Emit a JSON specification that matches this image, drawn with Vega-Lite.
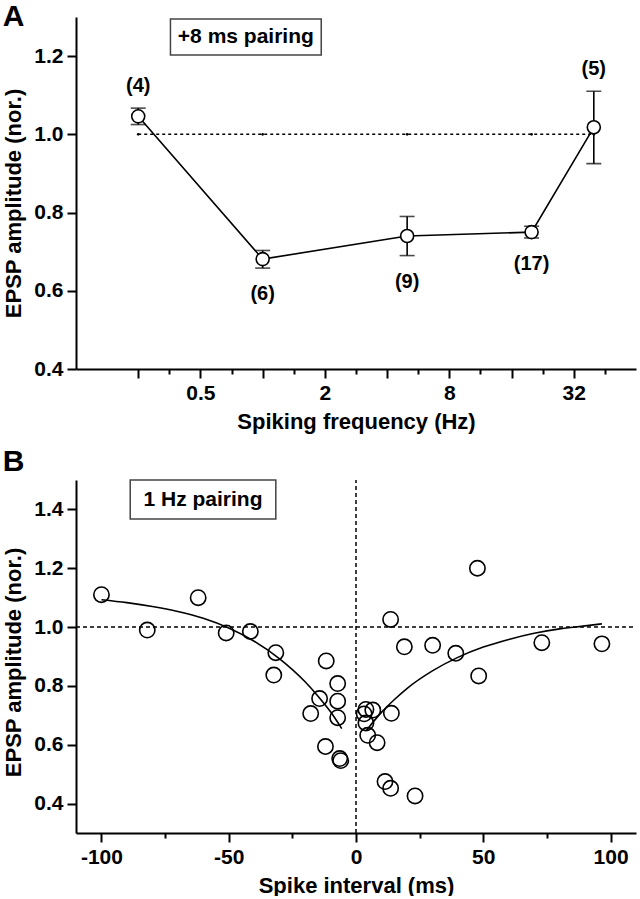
{
  "$schema": "https://vega.github.io/schema/vega-lite/v6.json",
  "padding": {"left": 2, "top": 2, "right": 0, "bottom": 0},
  "spacing": 15,
  "config": {
    "font": "Liberation Sans",
    "view": {"stroke": null},
    "axis": {
      "domainColor": "black", "domainWidth": 2, "tickColor": "black", "tickWidth": 2,
      "labelFont": "Liberation Sans", "labelFontWeight": "bold", "labelFontSize": 21, "labelColor": "black",
      "titleFont": "Liberation Sans", "titleFontWeight": "bold", "titleFontSize": 22, "titleColor": "black",
      "grid": false, "tickSize": 9, "labelPadding": 4, "titlePadding": 8
    },
    "title": {"fontSize": 30, "fontWeight": "bold", "anchor": "start", "frame": "bounds", "color": "black", "font": "Liberation Sans"}
  },
  "datasets": {
    "a": [
      {"freq": 0.25, "amp": 1.046, "lo": 1.025, "hi": 1.067, "label": "(4)", "side": "above"},
      {"freq": 1, "amp": 0.681, "lo": 0.658, "hi": 0.703, "label": "(6)", "side": "below"},
      {"freq": 5, "amp": 0.740, "lo": 0.690, "hi": 0.790, "label": "(9)", "side": "below"},
      {"freq": 20, "amp": 0.750, "lo": 0.735, "hi": 0.765, "label": "(17)", "side": "below"},
      {"freq": 40, "amp": 1.018, "lo": 0.925, "hi": 1.110, "label": "(5)", "side": "above"}
    ],
    "aref": [{"freq": 0.25, "freq2": 40, "amp": 1.0}],
    "abox": [{"freq": 0.358, "freq2": 1.92, "amp": 1.295, "amp2": 1.203, "cx": 0.829, "cy": 1.249, "text": "+8 ms pairing"}],
    "b": [
      {"t": -100, "amp": 1.11}, {"t": -82, "amp": 0.99}, {"t": -62, "amp": 1.10}, {"t": -51, "amp": 0.98},
      {"t": -41.5, "amp": 0.985}, {"t": -31.5, "amp": 0.913}, {"t": -32.3, "amp": 0.837}, {"t": -11.7, "amp": 0.885},
      {"t": -7.2, "amp": 0.808}, {"t": -14.3, "amp": 0.757}, {"t": -7.2, "amp": 0.748}, {"t": -17.8, "amp": 0.706},
      {"t": -7.2, "amp": 0.692}, {"t": -12, "amp": 0.594}, {"t": -6.4, "amp": 0.553}, {"t": -6.0, "amp": 0.546},
      {"t": 3.9, "amp": 0.72}, {"t": 6.6, "amp": 0.718}, {"t": 3.2, "amp": 0.705}, {"t": 3.9, "amp": 0.674},
      {"t": 4.6, "amp": 0.632}, {"t": 8.3, "amp": 0.607}, {"t": 13.9, "amp": 0.707}, {"t": 13.6, "amp": 1.026},
      {"t": 19, "amp": 0.933}, {"t": 30.1, "amp": 0.938}, {"t": 39.2, "amp": 0.911}, {"t": 47.7, "amp": 1.2},
      {"t": 48.2, "amp": 0.834}, {"t": 73, "amp": 0.947}, {"t": 96.6, "amp": 0.943}, {"t": 11.4, "amp": 0.475},
      {"t": 13.6, "amp": 0.452}, {"t": 23.2, "amp": 0.426}
    ],
    "bfit": [
      {"t": -100, "amp": 1.093, "curve": "L"}, {"t": -90, "amp": 1.083, "curve": "L"}, {"t": -80, "amp": 1.070, "curve": "L"},
      {"t": -70, "amp": 1.053, "curve": "L"}, {"t": -60, "amp": 1.030, "curve": "L"}, {"t": -50, "amp": 0.997, "curve": "L"},
      {"t": -40, "amp": 0.952, "curve": "L"}, {"t": -30, "amp": 0.892, "curve": "L"}, {"t": -20, "amp": 0.814, "curve": "L"},
      {"t": -15, "amp": 0.766, "curve": "L"}, {"t": -10, "amp": 0.712, "curve": "L"}, {"t": -5.6, "amp": 0.655, "curve": "L"},
      {"t": 4, "amp": 0.648, "curve": "R"}, {"t": 10, "amp": 0.710, "curve": "R"}, {"t": 15, "amp": 0.753, "curve": "R"},
      {"t": 20, "amp": 0.791, "curve": "R"}, {"t": 30, "amp": 0.851, "curve": "R"}, {"t": 40, "amp": 0.897, "curve": "R"},
      {"t": 50, "amp": 0.932, "curve": "R"}, {"t": 60, "amp": 0.958, "curve": "R"}, {"t": 70, "amp": 0.979, "curve": "R"},
      {"t": 80, "amp": 0.994, "curve": "R"}, {"t": 90, "amp": 1.004, "curve": "R"}, {"t": 96.6, "amp": 1.011, "curve": "R"}
    ],
    "bhref": [{"t": -110, "t2": 110, "amp": 1.0}],
    "bvref": [{"t": 0, "amp": 0.3, "amp2": 1.5}],
    "bbox": [{"t": -88.7, "t2": -31.5, "amp": 1.5, "amp2": 1.367, "ct": -60.1, "cy": 1.433, "text": "1 Hz pairing"}]
  },
  "vconcat": [
    {
      "title": {"text": "A", "offset": -15},
      "width": 560,
      "height": 352,
      "layer": [
        {
          "data": {"name": "aref"},
          "mark": {"type": "rule", "color": "black", "strokeWidth": 1.5, "strokeDash": [3, 3]},
          "encoding": {
            "x": {"field": "freq", "type": "quantitative", "title": "Spiking frequency (Hz)",
              "scale": {"type": "log", "base": 2, "domain": [0.2, 60]},
              "axis": {
                "values": [0.25, 0.3536, 0.5, 0.7071, 1, 1.4142, 2, 2.8284, 4, 5.6569, 8, 11.3137, 16, 22.6274, 32, 45.2548],
                "labelExpr": "indexof([0.5, 2, 8, 32], datum.value) >= 0 ? '' + datum.value : ''",
                "tickSize": {"condition": {"test": "indexof([0.25, 0.5, 1, 2, 4, 8, 16, 32], datum.value) < 0", "value": 5}, "value": 9},
                "labelOverlap": false
              }},
            "x2": {"field": "freq2"},
            "y": {"field": "amp", "type": "quantitative", "title": "EPSP amplitude (nor.)",
              "scale": {"domain": [0.4, 1.3], "nice": false, "zero": false},
              "axis": {"values": [0.4, 0.6, 0.8, 1.0, 1.2], "format": ".1f", "titleY": 186}}
          }
        },
        {
          "data": {"name": "a"},
          "mark": {"type": "point", "shape": "circle", "filled": true, "color": "black", "size": 7, "opacity": 1},
          "encoding": {
            "x": {"field": "freq", "type": "quantitative"},
            "y": {"datum": 1.0, "type": "quantitative"}
          }
        },
        {
          "data": {"name": "abox"},
          "mark": {"type": "rect", "fill": "white", "stroke": "#444", "strokeWidth": 1.5},
          "encoding": {
            "x": {"field": "freq", "type": "quantitative"},
            "x2": {"field": "freq2"},
            "y": {"field": "amp", "type": "quantitative"},
            "y2": {"field": "amp2"}
          }
        },
        {
          "data": {"name": "abox"},
          "mark": {"type": "text", "fontSize": 21, "fontWeight": "bold", "color": "black", "align": "center", "baseline": "middle"},
          "encoding": {
            "x": {"field": "cx", "type": "quantitative"},
            "y": {"field": "cy", "type": "quantitative"},
            "text": {"field": "text"}
          }
        },
        {
          "data": {"name": "a"},
          "mark": {"type": "line", "color": "black", "strokeWidth": 1.6},
          "encoding": {
            "x": {"field": "freq", "type": "quantitative"},
            "y": {"field": "amp", "type": "quantitative"}
          }
        },
        {
          "data": {"name": "a"},
          "mark": {"type": "errorbar", "ticks": {"size": 15, "thickness": 1.6, "color": "black"}, "rule": {"strokeWidth": 1.6, "color": "black"}},
          "encoding": {
            "x": {"field": "freq", "type": "quantitative"},
            "y": {"field": "lo", "type": "quantitative", "title": "EPSP amplitude (nor.)"},
            "y2": {"field": "hi"}
          }
        },
        {
          "data": {"name": "a"},
          "mark": {"type": "point", "shape": "circle", "filled": false, "fill": "white", "fillOpacity": 1, "stroke": "black", "strokeWidth": 1.6, "size": 170, "opacity": 1},
          "encoding": {
            "x": {"field": "freq", "type": "quantitative"},
            "y": {"field": "amp", "type": "quantitative"}
          }
        },
        {
          "data": {"name": "a"},
          "transform": [{"filter": "datum.side === 'above'"}],
          "mark": {"type": "text", "fontSize": 20, "fontWeight": "bold", "color": "black", "dy": -22, "baseline": "middle"},
          "encoding": {
            "x": {"field": "freq", "type": "quantitative"},
            "y": {"field": "hi", "type": "quantitative", "title": "EPSP amplitude (nor.)"},
            "text": {"field": "label"}
          }
        },
        {
          "data": {"name": "a"},
          "transform": [{"filter": "datum.side === 'below'"}],
          "mark": {"type": "text", "fontSize": 20, "fontWeight": "bold", "color": "black", "dy": 26, "baseline": "middle"},
          "encoding": {
            "x": {"field": "freq", "type": "quantitative"},
            "y": {"field": "lo", "type": "quantitative", "title": "EPSP amplitude (nor.)"},
            "text": {"field": "label"}
          }
        }
      ]
    },
    {
      "title": {"text": "B", "offset": 2},
      "width": 560,
      "height": 353,
      "layer": [
        {
          "data": {"name": "bhref"},
          "mark": {"type": "rule", "color": "black", "strokeWidth": 1.5, "strokeDash": [4, 3]},
          "encoding": {
            "x": {"field": "t", "type": "quantitative", "title": "Spike interval (ms)",
              "scale": {"domain": [-110, 110], "nice": false},
              "axis": {
                "values": [-100, -75, -50, -25, 0, 25, 50, 75, 100],
                "labelExpr": "datum.value % 50 === 0 ? (datum.value < 0 ? '-' + abs(datum.value) : '' + datum.value) : ''",
                "tickSize": {"condition": {"test": "datum.value % 50 !== 0", "value": 5}, "value": 9},
                "labelOverlap": false
              }},
            "x2": {"field": "t2"},
            "y": {"field": "amp", "type": "quantitative", "title": "EPSP amplitude (nor.)",
              "scale": {"domain": [0.3, 1.5], "nice": false, "zero": false},
              "axis": {"values": [0.4, 0.6, 0.8, 1.0, 1.2, 1.4], "format": ".1f", "titleY": 182}}
          }
        },
        {
          "data": {"name": "bvref"},
          "mark": {"type": "rule", "color": "black", "strokeWidth": 1.5, "strokeDash": [4, 3]},
          "encoding": {
            "x": {"field": "t", "type": "quantitative"},
            "y": {"field": "amp", "type": "quantitative"},
            "y2": {"field": "amp2"}
          }
        },
        {
          "data": {"name": "bbox"},
          "mark": {"type": "rect", "fill": "white", "stroke": "#444", "strokeWidth": 1.5},
          "encoding": {
            "x": {"field": "t", "type": "quantitative"},
            "x2": {"field": "t2"},
            "y": {"field": "amp", "type": "quantitative"},
            "y2": {"field": "amp2"}
          }
        },
        {
          "data": {"name": "bbox"},
          "mark": {"type": "text", "fontSize": 21, "fontWeight": "bold", "color": "black", "align": "center", "baseline": "middle"},
          "encoding": {
            "x": {"field": "ct", "type": "quantitative"},
            "y": {"field": "cy", "type": "quantitative"},
            "text": {"field": "text"}
          }
        },
        {
          "data": {"name": "bfit"},
          "mark": {"type": "line", "color": "black", "strokeWidth": 1.6, "interpolate": "monotone"},
          "encoding": {
            "x": {"field": "t", "type": "quantitative"},
            "y": {"field": "amp", "type": "quantitative"},
            "detail": {"field": "curve"}
          }
        },
        {
          "data": {"name": "b"},
          "mark": {"type": "point", "shape": "circle", "filled": false, "stroke": "black", "strokeWidth": 1.6, "size": 235, "opacity": 1},
          "encoding": {
            "x": {"field": "t", "type": "quantitative"},
            "y": {"field": "amp", "type": "quantitative"}
          }
        }
      ]
    }
  ]
}
